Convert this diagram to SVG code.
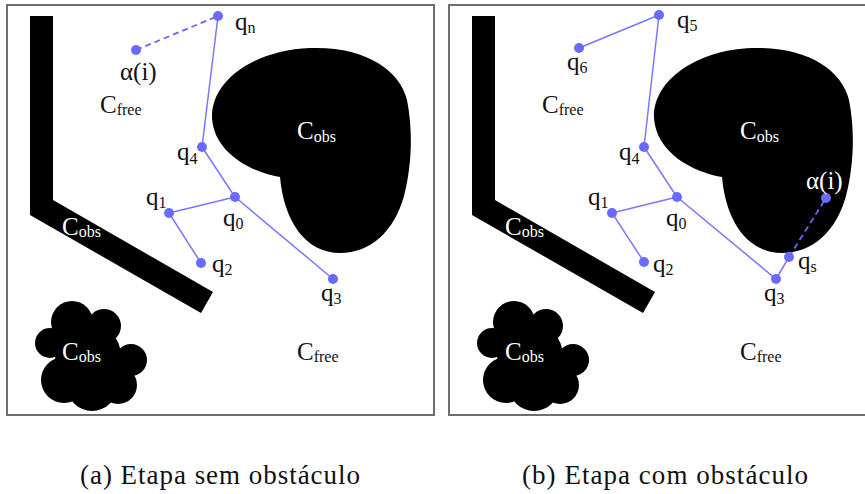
<svg xmlns="http://www.w3.org/2000/svg" width="865" height="494" viewBox="0 0 865 494">
<style>
.frame{fill:#fff;stroke:#6e6e6e;stroke-width:2}
.obs{fill:#000}
.lbl{font-family:'Liberation Serif','DejaVu Serif',serif;font-size:25px;fill:#111}
.sub{font-size:16px}
.wht{fill:#fff}
.edge{stroke:#7777ff;stroke-width:1.5;fill:none}
.dash{stroke:#6666ff;stroke-width:1.8;fill:none;stroke-dasharray:6 4}
.pt{fill:#6a6aff}
.cap{font-family:'Liberation Serif','DejaVu Serif',serif;font-size:27px;fill:#111}
</style>
<defs>
<g id="scene">
<rect class="frame" x="7" y="5" width="427" height="410"/>
<polygon class="obs" points="30,16 53,16 53,200 213,292 201,313 30,215"/>
<path class="obs" d="M280,177 C250,172 214,152 212,118 C211,80 255,50 310,48 C365,46 400,70 407,100 C413,130 412,165 404,196 C394,232 370,253 340,253 C306,253 284,222 280,177 Z"/>
<g class="obs">
<circle cx="72" cy="322" r="21"/>
<circle cx="104" cy="326" r="17"/>
<circle cx="50" cy="343" r="15"/>
<circle cx="131" cy="360" r="16"/>
<circle cx="88" cy="356" r="33"/>
<circle cx="64" cy="380" r="23"/>
<circle cx="92" cy="386" r="25"/>
<circle cx="118" cy="385" r="19"/>
</g>
</g>
</defs>

<g id="panel-a">
<use href="#scene"/>
<text class="lbl" x="100" y="113">C<tspan class="sub" dy="2">free</tspan></text>
<text class="lbl wht" x="297" y="139">C<tspan class="sub" dy="3">obs</tspan></text>
<text class="lbl wht" x="62" y="235">C<tspan class="sub" dy="2">obs</tspan></text>
<text class="lbl wht" x="62" y="360">C<tspan class="sub" dy="2">obs</tspan></text>
<text class="lbl" x="297" y="360">C<tspan class="sub" dy="2">free</tspan></text>
</g>

<g id="panel-b" transform="translate(442,0)">
<use href="#scene"/>
<text class="lbl" x="100" y="113">C<tspan class="sub" dy="2">free</tspan></text>
<text class="lbl wht" x="298" y="139">C<tspan class="sub" dy="3">obs</tspan></text>
<text class="lbl wht" x="63" y="235">C<tspan class="sub" dy="2">obs</tspan></text>
<text class="lbl wht" x="63" y="360">C<tspan class="sub" dy="2">obs</tspan></text>
<text class="lbl" x="298" y="360">C<tspan class="sub" dy="2">free</tspan></text>
</g>

<g id="connectors">
<line class="dash" x1="136" y1="50" x2="218" y2="16"/>
<polyline class="edge" points="218,16 202,147 235,197 169,213 201,263"/>
<line class="edge" x1="235" y1="197" x2="333" y2="279"/>
<polyline class="edge" points="579,48 659,15 644,147 677,197 612,213 644,262"/>
<polyline class="edge" points="677,197 776,279 789,257"/>
<line class="dash" x1="789" y1="257" x2="826" y2="198"/>
</g>

<g id="node-alpha-a"><circle class="pt" cx="136" cy="50" r="5"/><text class="lbl" x="120" y="80">α(i)</text></g>
<g id="node-qn-a"><circle class="pt" cx="218" cy="16" r="5"/><text class="lbl" x="235" y="30">q<tspan class="sub" dy="3">n</tspan></text></g>
<g id="node-q4-a"><circle class="pt" cx="202" cy="147" r="5"/><text class="lbl" x="177" y="160">q<tspan class="sub" dy="4">4</tspan></text></g>
<g id="node-q0-a"><circle class="pt" cx="235" cy="197" r="5"/><text class="lbl" x="223" y="226">q<tspan class="sub" dy="3">0</tspan></text></g>
<g id="node-q1-a"><circle class="pt" cx="169" cy="213" r="5"/><text class="lbl" x="146" y="205">q<tspan class="sub" dy="3">1</tspan></text></g>
<g id="node-q2-a"><circle class="pt" cx="201" cy="263" r="5"/><text class="lbl" x="212" y="272">q<tspan class="sub" dy="3">2</tspan></text></g>
<g id="node-q3-a"><circle class="pt" cx="333" cy="279" r="5"/><text class="lbl" x="321" y="301">q<tspan class="sub" dy="3">3</tspan></text></g>

<g id="node-q6-b"><circle class="pt" cx="579" cy="48" r="5"/><text class="lbl" x="567" y="70">q<tspan class="sub" dy="3">6</tspan></text></g>
<g id="node-q5-b"><circle class="pt" cx="659" cy="15" r="5"/><text class="lbl" x="677" y="28">q<tspan class="sub" dy="3">5</tspan></text></g>
<g id="node-q4-b"><circle class="pt" cx="644" cy="147" r="5"/><text class="lbl" x="619" y="160">q<tspan class="sub" dy="4">4</tspan></text></g>
<g id="node-q0-b"><circle class="pt" cx="677" cy="197" r="5"/><text class="lbl" x="666" y="226">q<tspan class="sub" dy="3">0</tspan></text></g>
<g id="node-q1-b"><circle class="pt" cx="612" cy="213" r="5"/><text class="lbl" x="588" y="205">q<tspan class="sub" dy="3">1</tspan></text></g>
<g id="node-q2-b"><circle class="pt" cx="644" cy="262" r="5"/><text class="lbl" x="653" y="272">q<tspan class="sub" dy="3">2</tspan></text></g>
<g id="node-q3-b"><circle class="pt" cx="776" cy="279" r="5"/><text class="lbl" x="764" y="301">q<tspan class="sub" dy="3">3</tspan></text></g>
<g id="node-qs-b"><circle class="pt" cx="789" cy="257" r="5"/><text class="lbl" x="798" y="269">q<tspan class="sub" dy="3">s</tspan></text></g>
<g id="node-alpha-b"><circle class="pt" cx="826" cy="198" r="5"/><text class="lbl wht" x="806" y="189">α(i)</text></g>

<text class="cap" x="80" y="484" textLength="280" lengthAdjust="spacing">(a) Etapa sem obstáculo</text>
<text class="cap" x="522" y="484" textLength="286" lengthAdjust="spacing">(b) Etapa com obstáculo</text>
</svg>
